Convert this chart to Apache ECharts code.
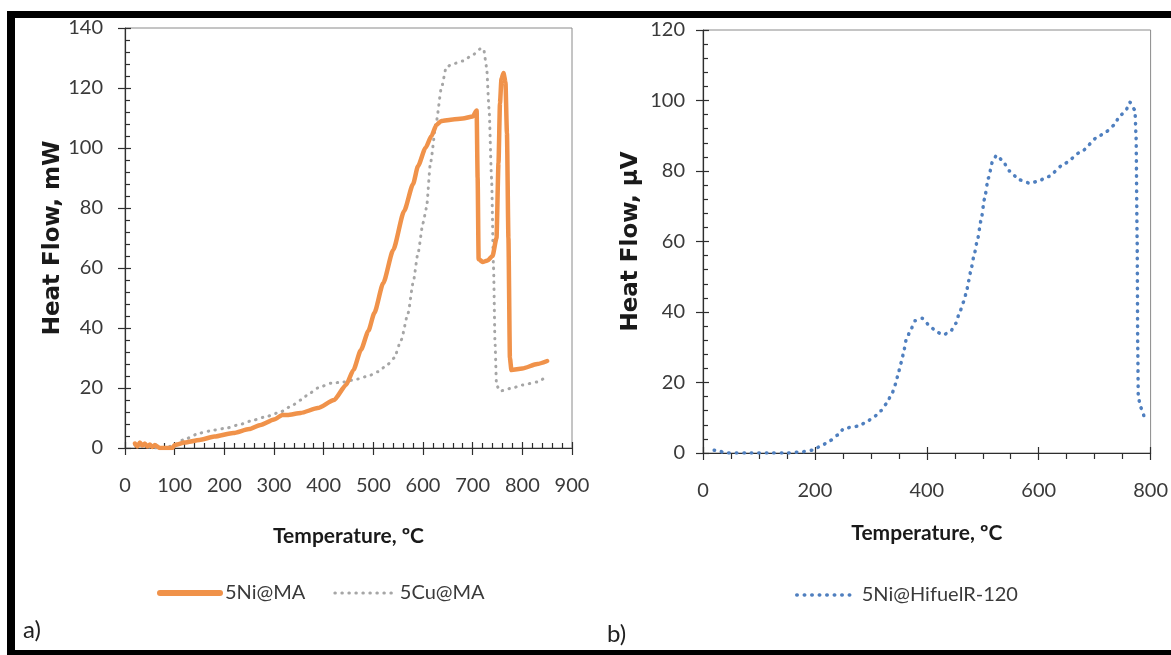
<!DOCTYPE html>
<html><head><meta charset="utf-8">
<script src="https://cdn.jsdelivr.net/npm/echarts@6/dist/echarts.min.js"></script>
<style>html,body{margin:0;padding:0;background:#fff}#c{width:1171px;height:655px}</style>
</head><body><div id="c"></div>
<script>
// ---- Panel a) DSC of 5Ni@MA and 5Cu@MA ----
const niMaTemp = [20,25,30,35,40,45,50,55,60,70,90,95,100,120,150,180,218,250,273,300,317,327,354,388,421,445,460,475,490,502,520,540,562,580,590,605,617,627,637,660,680,700,708,710,712,720,730,740,748,752,755,758,762,766,769,772,775,778,800,830,850];
const niMaFlow = [1.5,0.5,1.8,0.8,1.5,0.5,1.2,0.3,1,0,0,0,1,1.8,2.7,3.8,5,6.3,7.7,9.5,11,11,11.7,13.3,16,21,26,32.7,39,45,55,66,79,88,94,100,104,107.7,109,109.5,109.8,110.5,112.5,90,63,62,62.5,64,70,95,115,123,125,122,105,70,30,26,26.5,28,29];
const cuMaTemp = [20,40,60,80,100,117,151,180,206,230,259,285,313,335,354,370,388,415,440,461,490,509,530,542,556,570,580,590,600,607,615,627,637,647,660,680,700,715,722,728,733,738,742,745,748,755,780,800,830,850];
const cuMaFlow = [1,0.5,0,0,1,2.7,5,6,6.7,7.8,9.3,10.5,12,14,16,18,20,21.6,22,22.7,24,25.4,28,30,36,45,55,65,75,80,95,109,120,127,128,129,131,133,133,127,113,90,60,35,21,19,20,21,22,24];
// ---- Panel b) DSC of 5Ni@HifuelR-120 ----
const niHfTemp = [20,30,40,80,125,150,175,196,214,227,241,252,266,279,292,306,318,328,338,345,349,355,359,363,371,379,392,404,417,429,442,452,458,466,471,475,479,484,490,497,503,510,518,525,535,548,565,585,600,617,647,676,706,721,735,744,756,763,772,774,776,777,778,782,789];
const niHfFlow = [0.8,0.5,0,0,0,0,0.3,0.8,2.3,3.5,5.1,7,7.3,7.7,8.8,10.3,12,14,17,19.8,22.8,25.9,29,32,34.9,37.5,38.2,36.3,34.4,33.5,34.4,36.8,39.6,42.9,45.8,48.9,52,55.7,60,66,72,78,83,84.5,83,80,77.5,76.5,77.2,78.4,82.2,85.5,89.7,91.2,93,95.4,97.3,99.5,97.3,90,60,30,16,13,10];
// ---- Axis ticks / labels ----
const leftXTicks = {min: 0, max: 900, step: 100};
const leftYTicks = {min: 0, max: 140, step: 20};
const rightXTicks = {min: 0, max: 800, step: 200};
const rightYTicks = {min: 0, max: 120, step: 20};
const seriesNames = ['5Ni@MA', '5Cu@MA', '5Ni@HifuelR-120'];
const xTitle = 'Temperature, ºC';
const yTitleLeft = 'Heat Flow, mW';
const yTitleRight = 'Heat Flow, µV';

const zip = (a, b) => a.map((v, i) => [v, b[i]]);
const ORANGE = '#F0924A', GRAY = '#A6A6A6', BLUE = '#4F7FBF';
const AXC = '#2e2e2e';
const tickFont = {fontFamily: 'Lato', fontSize: 20, color: '#3a3a3a'};
const titleFontX = {fontFamily: 'Lato', fontWeight: 'bold', fontSize: 21, color: '#1a1a1a'};
const titleFontY = {fontFamily: 'DejaVu Sans', fontWeight: 'bold', fontSize: 23, color: '#1a1a1a'};
const tick = (inside, len) => ({show: true, inside: inside, length: len, lineStyle: {color: AXC, width: 1.2, type: 'solid'}});
const minor = (n, len) => ({show: true, splitNumber: n, length: len, lineStyle: {color: AXC, width: 1.2, type: 'solid'}});

function mainAxis(t, gi, opts) {
  return Object.assign({
    type: 'value', gridIndex: gi, min: t.min, max: t.max, interval: t.step,
    axisLine: {show: true, onZero: false, lineStyle: {color: AXC, width: 1.2, type: 'solid'}},
    splitLine: {show: false}
  }, opts);
}
function extraAxis(t, gi, opts) {
  return Object.assign({
    type: 'value', gridIndex: gi, min: t.min, max: t.max, interval: t.step,
    axisLine: {show: false, onZero: false}, splitLine: {show: false},
    axisLabel: {show: false}, minorTick: {show: false}
  }, opts);
}
const lbl = (m) => Object.assign({margin: m, showMinLabel: true, showMaxLabel: true}, tickFont);

const chart = echarts.init(document.getElementById('c'));
chart.setOption({
  backgroundColor: '#fff',
  animation: false,
  grid: [
    {left: 125, top: 28, width: 447, height: 420, show: true, borderColor: '#8a8a8a', borderWidth: 1},
    {left: 703, top: 30, width: 450, height: 423, show: true, borderColor: '#8a8a8a', borderWidth: 1}
  ],
  xAxis: [
    mainAxis(leftXTicks, 0, {
      position: 'bottom', axisTick: tick(true, 6), minorTick: minor(5, 5), axisLabel: lbl(28),
      name: xTitle, nameLocation: 'middle', nameGap: 78, nameTextStyle: titleFontX
    }),
    extraAxis(leftXTicks, 0, {position: 'bottom', axisTick: tick(false, 7)}),
    mainAxis(rightXTicks, 1, {
      position: 'bottom', axisTick: tick(false, 7), minorTick: minor(4, 6), axisLabel: lbl(28),
      name: xTitle, nameLocation: 'middle', nameGap: 70, nameTextStyle: titleFontX
    }),
    extraAxis(rightXTicks, 1, {position: 'bottom', axisTick: tick(true, 6)})
  ],
  yAxis: [
    mainAxis(leftYTicks, 0, {
      position: 'left', axisTick: tick(true, 6), minorTick: minor(5, 5), axisLabel: lbl(22),
      name: yTitleLeft, nameLocation: 'middle', nameGap: 58, nameRotate: 90, nameTextStyle: titleFontY
    }),
    extraAxis(leftYTicks, 0, {position: 'left', axisTick: tick(false, 7)}),
    mainAxis(rightYTicks, 1, {
      position: 'left', axisTick: tick(true, 6), minorTick: minor(5, 5), axisLabel: lbl(18),
      name: yTitleRight, nameLocation: 'middle', nameGap: 60, nameRotate: 90, nameTextStyle: titleFontY
    }),
    extraAxis(rightYTicks, 1, {position: 'left', axisTick: tick(false, 7)})
  ],
  legend: [
    {
      zlevel: 1,
      left: 152, top: 578, itemWidth: 60, itemHeight: 14, itemGap: 28,
      textStyle: {fontFamily: 'Lato', fontSize: 20, color: '#3a3a3a'},
      data: [
        {name: seriesNames[0], itemStyle: {opacity: 0}, lineStyle: {width: 6, color: ORANGE, type: 'solid'}},
        {name: seriesNames[1], itemStyle: {opacity: 0}, lineStyle: {width: 3, color: GRAY, type: [0.5, 6.5], cap: 'round'}}
      ]
    },
    {
      zlevel: 1,
      left: 790, top: 580, itemWidth: 60, itemHeight: 14,
      textStyle: {fontFamily: 'Lato', fontSize: 20, color: '#3a3a3a'},
      data: [
        {name: seriesNames[2], itemStyle: {opacity: 0}, lineStyle: {width: 3.5, color: BLUE, type: [0.5, 7], cap: 'round'}}
      ]
    }
  ],
  series: [
    {name: seriesNames[1], type: 'line', zlevel: 1, xAxisIndex: 0, yAxisIndex: 0, symbol: 'none', smooth: 0.2, smoothMonotone: 'x',
     data: zip(cuMaTemp, cuMaFlow),
     lineStyle: {color: GRAY, width: 3, type: [0.5, 6.5], cap: 'round'}, itemStyle: {color: GRAY}},
    {name: seriesNames[0], type: 'line', zlevel: 1, xAxisIndex: 0, yAxisIndex: 0, symbol: 'none', smooth: 0.2, smoothMonotone: 'x',
     data: zip(niMaTemp, niMaFlow),
     lineStyle: {color: ORANGE, width: 4.5, cap: 'round', join: 'round'}, itemStyle: {color: ORANGE}},
    {name: seriesNames[2], type: 'line', zlevel: 1, xAxisIndex: 2, yAxisIndex: 2, symbol: 'none', smooth: 0.2, smoothMonotone: 'x',
     data: zip(niHfTemp, niHfFlow),
     lineStyle: {color: BLUE, width: 3.5, type: [0.5, 7], cap: 'round'}, itemStyle: {color: BLUE}}
  ],
  graphic: [
    {type: 'rect', shape: {x: 7, y: 11, width: 1164, height: 7}, style: {fill: '#000'}},
    {type: 'rect', shape: {x: 7, y: 11, width: 8, height: 644}, style: {fill: '#000'}},
    {type: 'rect', shape: {x: 7, y: 650, width: 1164, height: 5}, style: {fill: '#000'}},
    {type: 'text', left: 23, top: 618, style: {text: 'a)', fontFamily: 'Lato', fontSize: 24, fill: '#222'}},
    {type: 'text', left: 607, top: 622, style: {text: 'b)', fontFamily: 'Lato', fontSize: 24, fill: '#222'}}
  ]
});
</script></body></html>
